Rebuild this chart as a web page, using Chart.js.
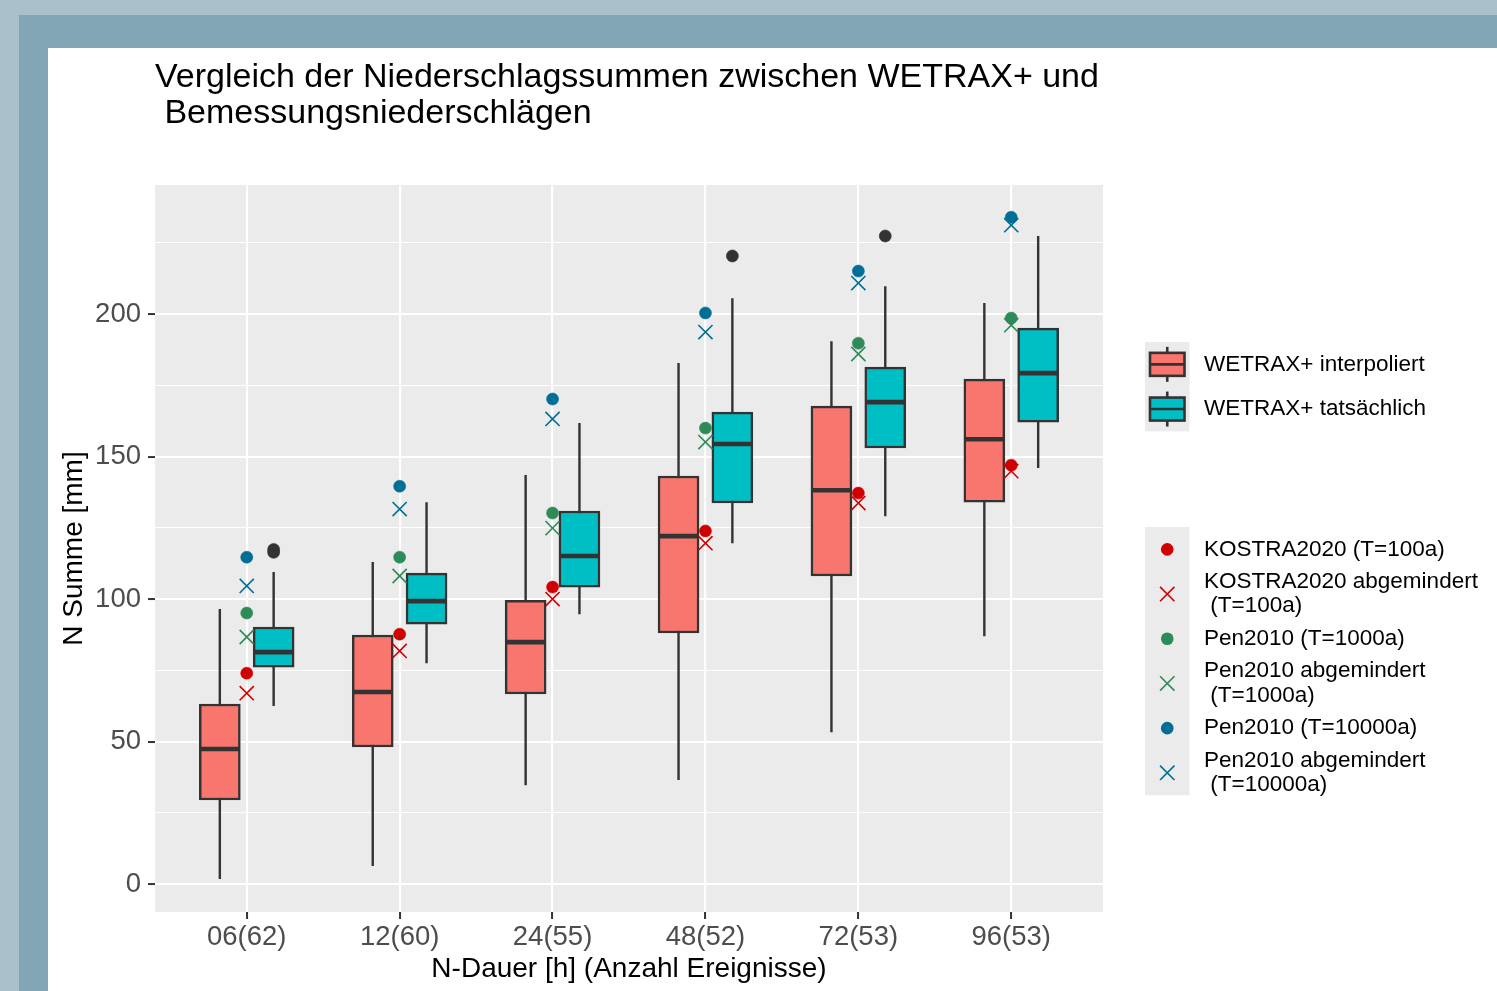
<!DOCTYPE html>
<html><head><meta charset="utf-8">
<script src="https://cdn.jsdelivr.net/npm/chart.js@4.4.1/dist/chart.umd.min.js"></script>
<style>
html,body{margin:0;padding:0;}
body{width:1497px;height:991px;background:#A9C1CB;position:relative;overflow:hidden;font-family:"Liberation Sans",Arial,sans-serif;}
#band{position:absolute;left:19px;top:15px;right:0;bottom:0;background:#82A6B6;}
#panel{position:absolute;left:48px;top:48px;width:1449px;height:943px;background:#fff;}
</style></head><body>
<div id="band"></div>
<div id="panel"><canvas id="c"></canvas></div>
<script>
// ---------------- data ----------------
const categories = ['06(62)','12(60)','24(55)','48(52)','72(53)','96(53)'];

// WETRAX+ interpoliert (box statistics)
const interpMin = [1.8, 6.3, 34.7, 36.5, 53.3, 87.0];
const interpQ1  = [29.5, 48.1, 66.7, 88.1, 108.1, 134.0];
const interpMed = [47.4, 67.4, 84.9, 122.1, 138.2, 156.1];
const interpQ3  = [63.2, 87.4, 99.6, 143.2, 167.7, 177.2];
const interpMax = [96.5, 113.0, 143.5, 182.8, 190.5, 203.9];

// WETRAX+ tatsächlich (box statistics)
const actualMin = [62.5, 77.5, 94.7, 119.6, 129.1, 146.0];
const actualQ1  = [76.1, 91.2, 104.2, 133.7, 153.0, 162.1];
const actualMed = [81.4, 99.3, 115.1, 154.4, 169.1, 179.3];
const actualQ3  = [90.2, 109.1, 130.9, 165.6, 181.4, 195.1];
const actualMax = [109.5, 134.0, 161.8, 205.6, 209.8, 227.4];

// outliers of WETRAX+ tatsächlich
const outlierCat = [0, 0, 3, 4];
const outlierVal = [116.4, 117.4, 220.4, 227.4];

// design rainfall
const kostra100      = [74.0, 87.7, 104.2, 123.9, 137.2, 147.0];
const kostra100Red   = [67.0, 81.8, 100.0, 119.6, 133.7, 144.9];
const pen1000        = [95.1, 114.7, 130.2, 160.0, 189.8, 198.6];
const pen1000Red     = [86.7, 108.1, 124.9, 155.1, 186.0, 196.1];
const pen10000       = [114.7, 139.6, 170.2, 200.4, 215.1, 234.0];
const pen10000Red    = [104.6, 131.6, 163.2, 193.7, 210.9, 231.2];

const yTickLabels = [0, 50, 100, 150, 200];

// ---------------- style / layout ----------------
const FONT = '"Liberation Sans", Arial, Helvetica, sans-serif';
const DODGE = 0.176;      // dodge offset (category units)
const HALF_BOX = 0.1275;  // half box width (category units)
const BOX_PX = 41;
const DARK = '#333333';
const C_RED = '#D10000', C_GREEN = '#2E8B57', C_BLUE = '#016E96';

const yGrid = [];
yTickLabels.forEach((v, i) => { yGrid.push(v); if (i < yTickLabels.length - 1) yGrid.push((v + yTickLabels[i + 1]) / 2); });
yGrid.push(yTickLabels[yTickLabels.length - 1] + 25);

function vSegs(xOff, lo, hi) {
  const out = [];
  categories.forEach((c, i) => { out.push({x: i + xOff, y: lo[i]}, {x: i + xOff, y: hi[i]}, {x: i + xOff, y: null}); });
  return out;
}
function hSegs(xOff, vals) {
  const out = [];
  categories.forEach((c, i) => { out.push({x: i + xOff - HALF_BOX, y: vals[i]}, {x: i + xOff + HALF_BOX, y: vals[i]}, {x: i + xOff, y: null}); });
  return out;
}
function pts(vals) { return vals.map((v, i) => ({x: i, y: v})); }

const lineDS = (data, w, order) => ({type: 'line', data, borderColor: DARK, borderWidth: w, pointRadius: 0,
  showLine: true, spanGaps: false, fill: false, order, borderCapStyle: 'butt', legendGroup: null});

const datasets = [
  lineDS(vSegs(-DODGE, interpMin, interpMax), 2.4, 5),
  lineDS(vSegs(DODGE, actualMin, actualMax), 2.4, 5),
  {type: 'bar', label: 'WETRAX+ interpoliert', legendGroup: 'box',
   data: categories.map((c, i) => ({x: i - DODGE, y: [interpQ1[i], interpQ3[i]]})),
   backgroundColor: '#F8766D', borderColor: DARK, borderWidth: 2.5, borderSkipped: false,
   barThickness: BOX_PX, grouped: false, order: 4},
  {type: 'bar', label: 'WETRAX+ tatsächlich', legendGroup: 'box',
   data: categories.map((c, i) => ({x: i + DODGE, y: [actualQ1[i], actualQ3[i]]})),
   backgroundColor: '#00BFC4', borderColor: DARK, borderWidth: 2.5, borderSkipped: false,
   barThickness: BOX_PX, grouped: false, order: 4},
  lineDS(hSegs(-DODGE, interpMed), 4.6, 3),
  lineDS(hSegs(DODGE, actualMed), 4.6, 3),
  {type: 'scatter', data: outlierCat.map((c, i) => ({x: c + DODGE, y: outlierVal[i]})),
   pointStyle: 'circle', pointRadius: 6, pointBackgroundColor: DARK, pointBorderColor: DARK, pointBorderWidth: 0.6, order: 2},
];
const refSeries = [
  ['KOSTRA2020 (T=100a)', kostra100, C_RED, 'circle'],
  ['KOSTRA2020 abgemindert\n (T=100a)', kostra100Red, C_RED, 'crossRot'],
  ['Pen2010 (T=1000a)', pen1000, C_GREEN, 'circle'],
  ['Pen2010 abgemindert\n (T=1000a)', pen1000Red, C_GREEN, 'crossRot'],
  ['Pen2010 (T=10000a)', pen10000, C_BLUE, 'circle'],
  ['Pen2010 abgemindert\n (T=10000a)', pen10000Red, C_BLUE, 'crossRot'],
];
refSeries.forEach(([label, vals, col, style]) => {
  datasets.push({type: 'scatter', label, legendGroup: 'pts', data: pts(vals), pointStyle: style,
    pointRadius: style === 'circle' ? 6 : 10, pointBackgroundColor: col, pointBorderColor: col,
    pointBorderWidth: style === 'circle' ? 0.6 : 1.6, order: style === 'circle' ? 1 : 0});
});

// ---------------- plugins ----------------
const panelBg = {
  id: 'panelBg',
  beforeDraw(chart) {
    const {ctx, chartArea: a} = chart;
    ctx.save(); ctx.fillStyle = '#EBEBEB'; ctx.fillRect(a.left, a.top, a.right - a.left, a.bottom - a.top); ctx.restore();
  }
};

const ggLegend = {
  id: 'ggLegend',
  afterDraw(chart) {
    const {ctx, chartArea: a} = chart;
    const x0 = a.right + 42, keyW = 44.5, itemH = 44.7, textX = x0 + 59;
    const groups = [
      {name: 'box', top: a.top + 157},
      {name: 'pts', top: a.top + 342},
    ];
    ctx.save();
    groups.forEach(g => {
      const items = chart.data.datasets.filter(d => d.legendGroup === g.name);
      ctx.fillStyle = '#EBEBEB';
      ctx.fillRect(x0, g.top, keyW, itemH * items.length);
      items.forEach((d, k) => {
        const cy = g.top + itemH * (k + 0.5), cx = x0 + keyW / 2;
        if (d.type === 'bar') {
          ctx.strokeStyle = DARK; ctx.lineWidth = 2.6;
          ctx.beginPath(); ctx.moveTo(cx, cy - 17.5); ctx.lineTo(cx, cy + 17.5); ctx.stroke();
          ctx.fillStyle = d.backgroundColor;
          ctx.fillRect(x0 + 5, cy - 11.5, keyW - 10, 23);
          ctx.strokeRect(x0 + 5, cy - 11.5, keyW - 10, 23);
          ctx.beginPath(); ctx.moveTo(x0 + 5, cy); ctx.lineTo(x0 + keyW - 5, cy); ctx.stroke();
        } else if (d.pointStyle === 'circle') {
          ctx.fillStyle = d.pointBackgroundColor;
          ctx.beginPath(); ctx.arc(cx, cy, 6.3, 0, Math.PI * 2); ctx.fill();
        } else {
          ctx.strokeStyle = d.pointBorderColor; ctx.lineWidth = 1.6;
          ctx.beginPath();
          ctx.moveTo(cx - 7.2, cy - 7.2); ctx.lineTo(cx + 7.2, cy + 7.2);
          ctx.moveTo(cx + 7.2, cy - 7.2); ctx.lineTo(cx - 7.2, cy + 7.2);
          ctx.stroke();
        }
        ctx.fillStyle = '#000'; ctx.font = '22.5px ' + FONT; ctx.textBaseline = 'middle'; ctx.textAlign = 'left';
        const lines = d.label.split('\n');
        lines.forEach((ln, j) => ctx.fillText(ln, textX, cy + (j - (lines.length - 1) / 2) * 24.4));
      });
    });
    ctx.restore();
  }
};

new Chart(document.getElementById('c'), {
  type: 'scatter',
  data: {datasets},
  plugins: [panelBg, ggLegend],
  options: {
    responsive: true, maintainAspectRatio: false, animation: false, events: [],
    layout: {padding: {left: 0, top: 0, right: 394, bottom: 0}},
    scales: {
      x: {
        type: 'linear', min: -0.6, max: 5.6, offset: false,
        afterBuildTicks: s => { s.ticks = categories.map((c, i) => ({value: i})); },
        afterFit: s => { s.height = 79; },
        ticks: {callback: v => categories[v] ?? '', color: '#4D4D4D', font: {family: FONT, size: 27.5},
                padding: 2, autoSkip: false, maxRotation: 0},
        grid: {color: '#FFFFFF', lineWidth: 2.1, tickColor: DARK, tickLength: 7, tickWidth: 2, offset: false},
        border: {display: false},
        title: {display: true, text: 'N-Dauer [h] (Anzahl Ereignisse)', color: '#000',
                font: {family: FONT, size: 28}, padding: {top: 0, bottom: 5}}
      },
      y: {
        type: 'linear', min: -9.8, max: 245.3,
        afterBuildTicks: s => { s.ticks = yGrid.map(v => ({value: v})); },
        afterFit: s => { s.width = 107; },
        ticks: {callback: v => yTickLabels.includes(v) ? String(v) : '', color: '#4D4D4D',
                font: {family: FONT, size: 27.5}, padding: 7, autoSkip: false},
        grid: {color: '#FFFFFF',
               lineWidth: c => (c.tick && yTickLabels.includes(c.tick.value)) ? 2.1 : 1.1,
               tickColor: c => (c.tick && yTickLabels.includes(c.tick.value)) ? DARK : 'rgba(0,0,0,0)',
               tickLength: 7, tickWidth: 2},
        border: {display: false},
        title: {display: true, text: 'N Summe [mm]', color: '#000',
                font: {family: FONT, size: 28}, padding: {top: 9, bottom: 0}}
      }
    },
    plugins: {
      legend: {display: false},
      tooltip: {enabled: false},
      title: {display: true, align: 'start', fullSize: false, color: '#000',
              text: ['Vergleich der Niederschlagssummen zwischen WETRAX+ und', ' Bemessungsniederschlägen'],
              font: {family: FONT, size: 34, weight: 'normal', lineHeight: 1.05},
              padding: {top: 11.6, bottom: 54}}
    }
  }
});
</script></body></html>
